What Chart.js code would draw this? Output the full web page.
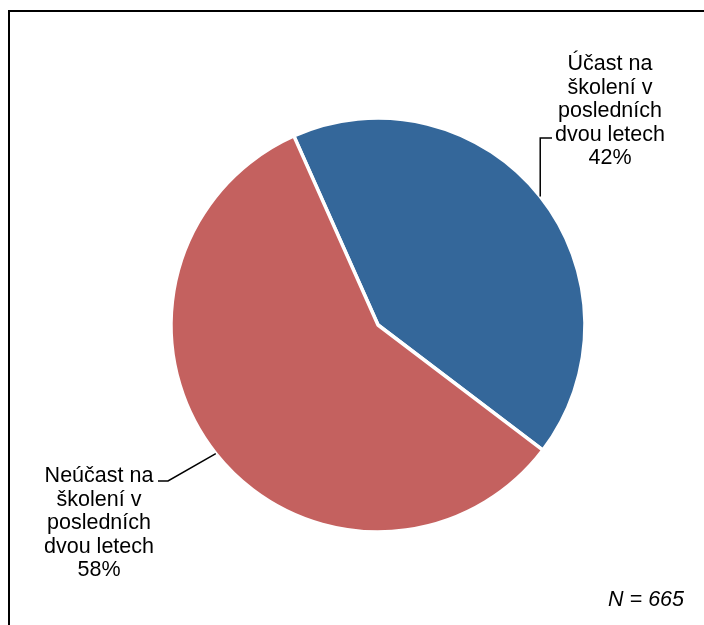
<!DOCTYPE html>
<html>
<head>
<meta charset="utf-8">
<script src="https://cdn.jsdelivr.net/npm/chart.js@4"></script>
<style>
  html, body { margin: 0; padding: 0; background: #fff; }
  #wrap { position: relative; width: 704px; height: 625px; overflow: hidden; }
  #frame { position: absolute; left: 8px; top: 10px; width: 800px; height: 800px;
           border-top: 2px solid #000; border-left: 2px solid #000; }
  #chart { position: absolute; left: 0; top: 0; }
</style>
</head>
<body>
<div id="wrap">
  <div id="frame"></div>
  <canvas id="chart" width="704" height="625"></canvas>
</div>
<script>
// slice data
const categories = ['Účast na školení v posledních dvou letech', 'Neúčast na školení v posledních dvou letech'];
const labelLines = [
    ['Účast na', 'školení v', 'posledních', 'dvou letech'],
    ['Neúčast na', 'školení v', 'posledních', 'dvou letech']
];
const shares = [42, 58];
const colors = ['#34679A', '#C4615F'];
const sampleNote = 'N = 665';

const FONT = '21.5px "Liberation Sans", Arial, sans-serif';

// draws the data labels, leader lines and the N note
const labelPlugin = {
    id: 'pie_labels',
    afterDraw: (chart) => {
        const ctx = chart.ctx;
        const arcs = chart.getDatasetMeta(0).data;
        ctx.save();
        ctx.fillStyle = '#000';
        ctx.strokeStyle = '#000';
        ctx.lineWidth = 1.5;
        ctx.font = FONT;
        ctx.textAlign = 'center';
        ctx.textBaseline = 'alphabetic';

        arcs.forEach((arc, i) => {
            const mid = (arc.startAngle + arc.endAngle) / 2;
            const ex = arc.x + Math.cos(mid) * arc.outerRadius;
            const ey = arc.y + Math.sin(mid) * arc.outerRadius;
            const lines = labelLines[i].concat([shares[i] + '%']);
            let cx, y0;
            ctx.beginPath();
            ctx.moveTo(ex, ey);
            if (ex > arc.x) {
                // right side label
                ctx.lineTo(ex, 138);
                ctx.lineTo(552, 138);
                cx = 610; y0 = 70;
            } else {
                ctx.lineTo(168, 481);
                ctx.lineTo(158, 481);
                cx = 99; y0 = 482;
            }
            ctx.stroke();
            lines.forEach((t, k) => ctx.fillText(t, cx, y0 + k * 23.6));
        });

        ctx.font = 'italic ' + FONT;
        ctx.textAlign = 'right';
        ctx.fillText(sampleNote, 684, 606);
        ctx.restore();
    }
};

const ctx = document.getElementById('chart').getContext('2d');
const myChart = new Chart(ctx, {
    type: 'pie',
    data: {
        labels: categories,
        datasets: [{
            data: shares,
            backgroundColor: colors,
            borderColor: '#fff',
            borderWidth: 3.5,
        }]
    },
    options: {
        responsive: false,
        animation: false,
        rotation: -24,
        radius: 207,
        layout: { padding: { left: 171, right: 119, top: 118, bottom: 93 } },
        plugins: {
            legend: { display: false },
            tooltip: { enabled: false }
        }
    },
    plugins: [labelPlugin],
});
</script>
</body>
</html>
